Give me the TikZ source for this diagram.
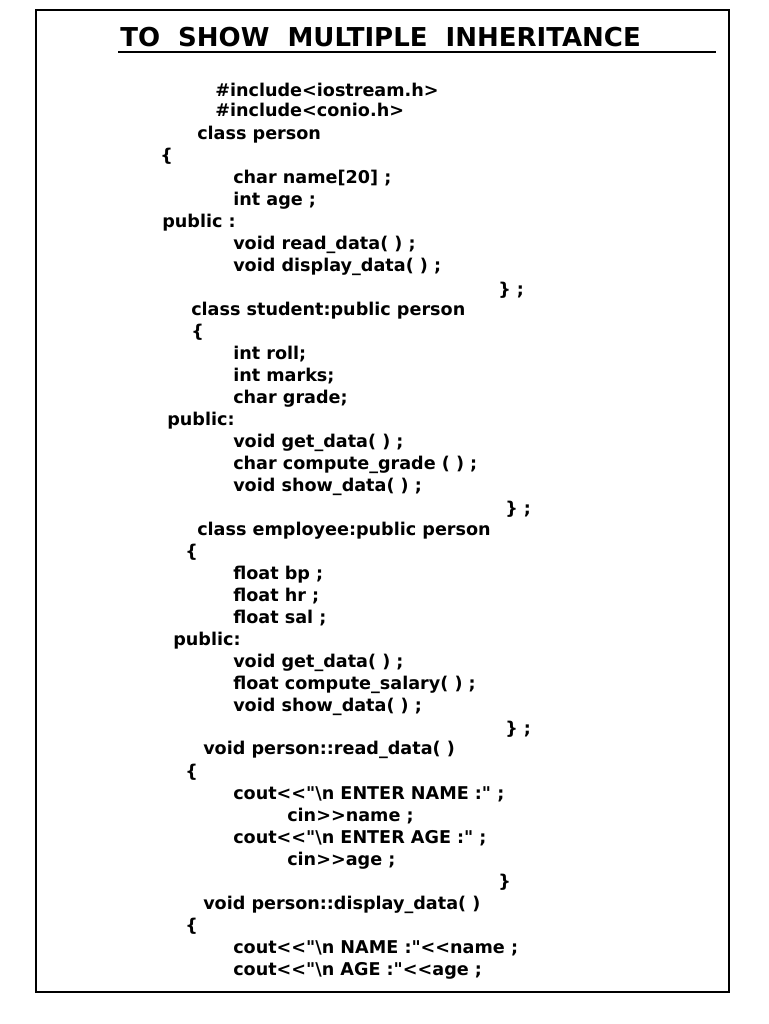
\documentclass[tikz,border=0pt]{standalone}
\usepackage{fontspec}
\setmainfont{DejaVu Sans}[Ligatures=TeXOff]
\tikzset{code/.style={anchor=base west, inner sep=0pt, font=\bfseries\fontsize{13.2pt}{15pt}\selectfont}}
\begin{document}
\begin{tikzpicture}[x=0.75pt,y=-0.75pt]
  \useasboundingbox (0,0) rectangle (768,1024);
  \draw [line width=2pt] (36,10) rectangle (729,992);
  % heading
  \node (title) [anchor=base west, inner sep=0pt, font=\bfseries\fontsize{19.5pt}{22pt}\selectfont] at (120,47) {TO\ \ SHOW\ \ MULTIPLE\ \ INHERITANCE};
  \draw [line width=1pt] (118,52) -- (716,52);
  % class person
  \node (l1) [code] at (215,96) {\#include<iostream.h>};
  \node (l2) [code] at (215,117) {\#include<conio.h>};
  \node (l3) [code] at (197,139) {class person};
  \node (l4) [code] at (160,161) {\{};
  \node (l5) [code] at (233,183) {char name[20] ;};
  \node (l6) [code] at (233,205) {int age ;};
  \node (l7) [code] at (162,227) {public :};
  \node (l8) [code] at (233,249) {void read\_data( ) ;};
  \node (l9) [code] at (233,271) {void display\_data( ) ;};
  \node (l10) [code] at (498,295) {\} ;};
  % class student
  \node (l11) [code] at (191,315) {class student:public person};
  \node (l12) [code] at (191,337) {\{};
  \node (l13) [code] at (233,359) {int roll;};
  \node (l14) [code] at (233,381) {int marks;};
  \node (l15) [code] at (233,403) {char grade;};
  \node (l16) [code] at (167,425) {public:};
  \node (l17) [code] at (233,447) {void get\_data( ) ;};
  \node (l18) [code] at (233,469) {char compute\_grade ( ) ;};
  \node (l19) [code] at (233,491) {void show\_data( ) ;};
  \node (l20) [code] at (505,514) {\} ;};
  % class employee
  \node (l21) [code] at (197,535) {class employee:public person};
  \node (l22) [code] at (185,557) {\{};
  \node (l23) [code] at (233,579) {float bp ;};
  \node (l24) [code] at (233,601) {float hr ;};
  \node (l25) [code] at (233,623) {float sal ;};
  \node (l26) [code] at (173,645) {public:};
  \node (l27) [code] at (233,667) {void get\_data( ) ;};
  \node (l28) [code] at (233,689) {float compute\_salary( ) ;};
  \node (l29) [code] at (233,711) {void show\_data( ) ;};
  \node (l30) [code] at (505,734) {\} ;};
  % member functions
  \node (l31) [code] at (203,754) {void person::read\_data( )};
  \node (l32) [code] at (185,777) {\{};
  \node (l33) [code] at (233,799) {cout<<"\textbackslash n ENTER NAME :" ;};
  \node (l34) [code] at (287,821) {cin>>name ;};
  \node (l35) [code] at (233,843) {cout<<"\textbackslash n ENTER AGE :" ;};
  \node (l36) [code] at (287,865) {cin>>age ;};
  \node (l37) [code] at (498,887) {\}};
  \node (l38) [code] at (203,909) {void person::display\_data( )};
  \node (l39) [code] at (185,931) {\{};
  \node (l40) [code] at (233,953) {cout<<"\textbackslash n NAME :"<<name ;};
  \node (l41) [code] at (233,975) {cout<<"\textbackslash n AGE :"<<age ;};
\end{tikzpicture}
\end{document}
